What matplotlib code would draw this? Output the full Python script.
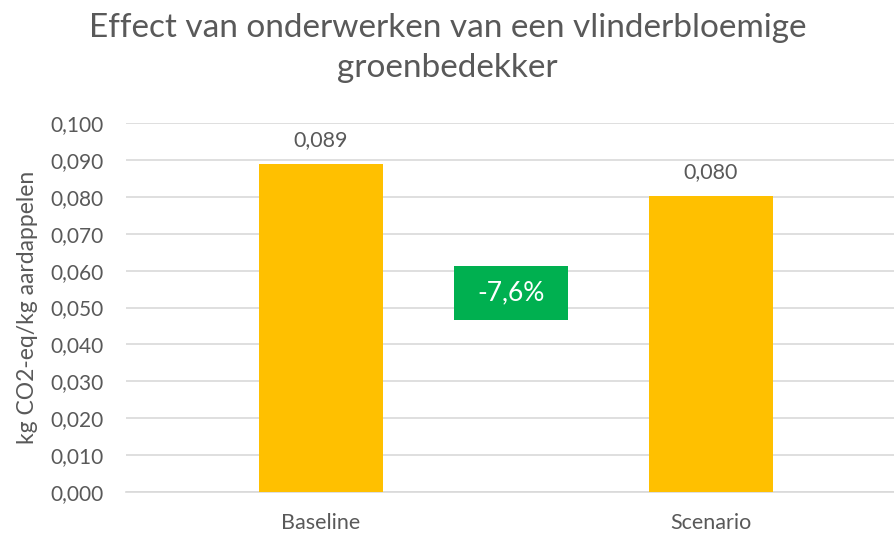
import matplotlib
matplotlib.use("Agg")
import matplotlib.pyplot as plt
from matplotlib.patches import Rectangle

categories = ["Baseline", "Scenario"]
values = [0.089, 0.0802]
value_labels = ["0,089", "0,080"]
change_label = "-7,6%"
yticks = [0.0, 0.01, 0.02, 0.03, 0.04, 0.05, 0.06, 0.07, 0.08, 0.09, 0.10]
ytick_labels = ["0,000", "0,010", "0,020", "0,030", "0,040", "0,050",
                "0,060", "0,070", "0,080", "0,090", "0,100"]
title = "Effect van onderwerken van een vlinderbloemige\ngroenbedekker"
ylabel = "kg CO2-eq/kg aardappelen"

plt.rcParams['font.family'] = ['Lato', 'DejaVu Sans']
gray = "#595959"

fig = plt.figure(figsize=(8.95, 5.35), dpi=100)
W, H = 895, 535
left, right, top, bottom = 126, 906, 123, 492
ax = fig.add_axes([left / W, 1 - bottom / H, (right - left) / W, (bottom - top) / H])

x = list(range(len(categories)))
ax.bar(x, values, width=0.316, color="#FFC000", zorder=3)
ax.set_xlim(-0.5, 1.5)
ax.set_ylim(0, 0.1)
ax.set_yticks(yticks)
ax.set_yticklabels(ytick_labels, fontsize=15, color=gray)
ax.set_xticks(x)
ax.set_xticklabels(categories, fontsize=15.5, color=gray)
ax.tick_params(axis='both', length=0)
ax.tick_params(axis='y', pad=16)
ax.tick_params(axis='x', pad=15)
ax.grid(axis='y', color="#D9D9D9", linewidth=1.2, zorder=0)
for s in ['top', 'right', 'left']:
    ax.spines[s].set_visible(False)
ax.spines['bottom'].set_color("#D9D9D9")
ax.spines['bottom'].set_linewidth(1.2)

for xi, v, lab in zip(x, values, value_labels):
    ax.annotate(lab, (xi, v), xytext=(0, 10), textcoords='offset points',
                ha='center', va='bottom', fontsize=15.5, color=gray)

ax.set_ylabel(ylabel, fontsize=16.5, color=gray, labelpad=9)

box_x0, box_w = 0.34, 0.294
box_y0, box_h = 0.0465, 0.0147
ax.add_patch(Rectangle((box_x0, box_y0), box_w, box_h, facecolor="#00B050",
                       edgecolor="none", zorder=4))
ax.text(box_x0 + box_w / 2, box_y0 + box_h / 2, change_label, ha='center',
        va='center', fontsize=19, color="white", zorder=5)

fig.text(0.5, 1 - 48 / H, title, ha='center', va='center', fontsize=24,
         color=gray, linespacing=1.38)

fig.savefig("out.png", dpi=100)
